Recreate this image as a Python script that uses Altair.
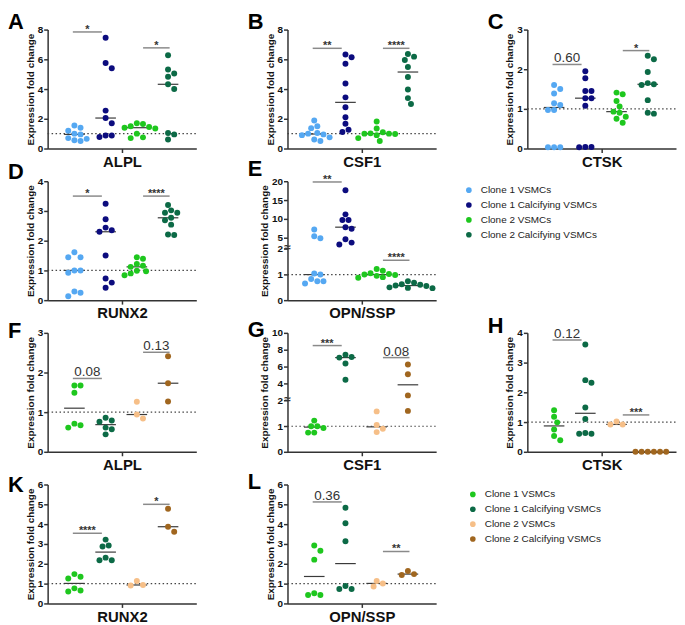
import altair as alt
import numpy as np
import pandas as pd

FONT = "Liberation Sans"
GROUPS = ["Clone 1 VSMCs", "Clone 1 Calcifying VSMCs", "Clone 2 VSMCs", "Clone 2 Calcifying VSMCs"]
COLORS_TOP = ["#55a8f2", "#0c0c7e", "#1ec71e", "#0c6a46"]
COLORS_BOT = ["#1ec71e", "#0c6a46", "#f6bf88", "#a0661f"]

LETTERS = ["A", "B", "C", "D", "E", "F", "G", "H", "K", "L"]
GENES = ["ALPL", "CSF1", "CTSK", "RUNX2", "OPN/SSP", "ALPL", "CSF1", "CTSK", "RUNX2", "OPN/SSP"]

# values per panel: 4 groups each
A_VALS = [[1.55, 1.4, 1.2, 1.0, 0.95, 0.7, 0.65, 0.55, 0.5],
          [7.45, 5.75, 5.4, 2.55, 2.05, 1.7, 0.87, 0.87, 0.78],
          [1.7, 1.65, 1.5, 1.45, 1.4, 1.35, 1.0, 0.75, 0.7],
          [6.28, 5.32, 5.05, 4.83, 4.32, 4.0, 1.05, 0.95, 0.6]]
B_VALS = [[1.88, 1.5, 1.37, 1.05, 1.0, 0.95, 0.9, 0.75, 0.6, 0.5],
          [6.32, 6.14, 5.7, 4.37, 3.44, 2.77, 2.1, 1.66, 1.26, 1.11],
          [1.82, 1.35, 1.1, 1.02, 1.0, 1.0, 0.98, 0.9, 0.7, 0.5],
          [6.36, 6.18, 5.96, 5.48, 4.81, 3.97, 3.39, 2.99]]
C_VALS = [[1.6, 1.5, 1.39, 1.14, 1.1, 0.97, 0.97, 0.03, 0.03, 0.03],
          [1.95, 1.77, 1.45, 1.45, 1.27, 1.27, 1.08, 0.04, 0.04, 0.03],
          [1.41, 1.37, 1.2, 1.06, 0.93, 0.9, 0.8, 0.75, 0.65],
          [2.34, 2.25, 1.93, 1.65, 1.62, 1.6, 1.22, 0.9, 0.88]]
D_VALS = [[1.61, 1.44, 1.44, 1.0, 1.0, 0.92, 0.29, 0.25, 0.13],
          [3.24, 2.72, 2.44, 2.35, 2.3, 1.5, 0.73, 0.59, 0.42],
          [1.44, 1.39, 1.22, 1.16, 1.12, 0.99, 0.97, 0.9, 0.84],
          [3.2, 3.02, 2.94, 2.94, 2.77, 2.69, 2.54, 2.21, 2.19]]
E_VALS = [[7.2, 5.4, 4.85, 1.04, 1.0, 0.83, 0.74, 0.74, 0.65],
          [17.6, 11.2, 9.7, 9.7, 7.8, 7.4, 4.6, 3.7, 3.2],
          [1.22, 1.15, 1.05, 1.02, 1.0, 0.98, 0.95, 0.9, 0.88],
          [0.74, 0.68, 0.62, 0.6, 0.57, 0.55, 0.5, 0.48, 0.47]]
F_VALS = [[1.67, 1.67, 1.49, 0.71, 0.67, 0.61],
          [0.86, 0.79, 0.76, 0.61, 0.57, 0.44],
          [1.26, 0.94, 0.84],
          [2.41, 1.73, 1.27]]
G_VALS = [[1.22, 1.0, 1.0, 0.93, 0.75, 0.75],
          [7.42, 7.15, 7.08, 6.38, 4.46],
          [1.58, 1.05, 0.9, 0.77],
          [6.27, 5.12, 2.62, 1.6]]
H_VALS = [[1.4, 1.18, 0.99, 0.75, 0.53, 0.39],
          [3.61, 2.41, 2.32, 1.49, 1.1, 0.63, 0.61, 0.61],
          [1.02, 0.92, 0.92],
          [0.0, 0.0, 0.0, 0.0, 0.0, 0.0]]
K_VALS = [[1.48, 1.35, 1.26, 0.76, 0.65, 0.6],
          [3.22, 2.92, 2.87, 2.31, 2.18, 2.18],
          [1.13, 0.93, 0.9],
          [4.78, 3.87, 3.62]]
L_VALS = [[2.92, 2.66, 2.21, 0.51, 0.43, 0.43],
          [4.83, 4.05, 3.14, 0.88, 0.73, 0.73],
          [1.13, 1.01, 0.85],
          [1.64, 1.48, 1.43]]
PANEL_VALS = [A_VALS, B_VALS, C_VALS, D_VALS, E_VALS, F_VALS, G_VALS, H_VALS, K_VALS, L_VALS]

Y_MAX = [8, 8, 3, 4, 20, 3, 10, 4, 6, 6]
Y_TICKS = [[0, 2, 4, 6, 8], [0, 2, 4, 6, 8], [0, 1, 2, 3], [0, 1, 2, 3, 4],
           [0, 1, 2, 5, 10, 15, 20], [0, 1, 2, 3], [0, 1, 2, 4, 6, 8, 10],
           [0, 1, 2, 3, 4], [0, 1, 2, 3, 4, 5, 6], [0, 1, 2, 3, 4, 5, 6]]
Y_BREAK = [None, None, None, None, 2, None, 2, None, None, None]

SIG_Y = [[7.84, 6.77], [6.74, 6.74], [2.12, 2.47], [3.5, 3.5], [19.8, 1.56],
         [1.85, 2.51], [8.5, 7.08], [3.76, 1.24], [3.54, 5.0], [5.12, 2.62]]
SIG_TEXT = [["*", "*"], ["**", "****"], ["0.60", "*"], ["*", "****"], ["**", "****"],
            ["0.08", "0.13"], ["***", "0.08"], ["0.12", "***"], ["****", "*"], ["0.36", "**"]]
SIG_SPANS = [(0.95, 1.88), (3.2, 4.05)]

# layout (pixels): letter baseline relative to the plot top
LETTER_Y = [-1, -1, -1, -2, -5, 5, 4, 0, 8, 5]

W, H = 150, 120
X_DOMAIN = [0.143, 4.905]
PX_PER_UNIT = W / (X_DOMAIN[1] - X_DOMAIN[0])
BREAK_FRAC = 0.43
DOT = 6.2


def y_frame(i):
    if Y_BREAK[i] is None:
        dom = [0, Y_MAX[i]]
        frac = [0, 1]
    else:
        dom = [0, Y_BREAK[i], Y_MAX[i]]
        frac = [0, BREAK_FRAC, 1]
    return dom, frac


def swarm(vals, dom, frac):
    placed, offs = [], []
    cands = [0.0]
    for k in range(1, 40):
        cands += [k * DOT / 2, -k * DOT / 2]
    for v in vals:
        y = float(np.interp(v, dom, frac)) * H
        for c in cands:
            if all((c - px) ** 2 + (y - py) ** 2 >= DOT ** 2 - 1e-6 for px, py in placed):
                break
        placed.append((c, y))
        offs.append(c)
    return offs


def panel(i):
    colors = COLORS_TOP if i < 5 else COLORS_BOT
    dom, frac = y_frame(i)
    rows = []
    for g, vals in enumerate(PANEL_VALS[i]):
        offs = swarm(vals, dom, frac)
        for v, o in zip(vals, offs):
            rows.append({"group": GROUPS[g], "gi": g + 1, "v": v, "x": g + 1 + o / PX_PER_UNIT})
    df = pd.DataFrame(rows)

    yscale = alt.Scale(domain=dom, range=[H - f * H for f in frac], nice=False, zero=False)
    xscale = alt.Scale(domain=X_DOMAIN, nice=False, zero=False)
    axcol = "#333333"
    yaxis = alt.Axis(values=Y_TICKS[i], format="d", title="Expression fold change",
                     titleFont=FONT, titleFontSize=10, titleFontWeight="bold", titleColor="#111",
                     labelFont=FONT, labelFontSize=10, labelFontWeight="bold", labelColor="#111",
                     labelPadding=1, tickSize=4, titlePadding=2, grid=False,
                     domainWidth=1.5, tickWidth=1.5, domainColor=axcol, tickColor=axcol)
    xaxis = alt.Axis(values=[sum(X_DOMAIN) / 2], labels=False, tickSize=4, title=GENES[i],
                     titleFont=FONT, titleFontSize=15, titleFontWeight="bold", titleColor="#111",
                     titlePadding=1, grid=False, domainWidth=1.5, tickWidth=1.5,
                     domainColor=axcol, tickColor=axcol)

    def X(field):
        return alt.X(field, scale=xscale, axis=xaxis)

    def Y(field):
        return alt.Y(field, scale=yscale, axis=yaxis)

    if i == 4 or i == 9:
        legend = alt.Legend(orient="none", legendX=178 if i == 4 else 182,
                            legendY=4 if i == 4 else 5, title=None,
                            labelFont=FONT, labelFontSize=10, labelColor="#222",
                            symbolSize=32, symbolType="circle", symbolStrokeWidth=0,
                            rowPadding=5, labelOffset=7, padding=0)
    else:
        legend = None

    ref = alt.Chart(pd.DataFrame({"y": [1.0], "xa": [X_DOMAIN[0]], "xb": [X_DOMAIN[1]]})).mark_rule(
        color="#444", strokeDash=[1.5, 2.5], strokeWidth=1.2).encode(
        x=X("xa:Q"), x2="xb:Q", y=Y("y:Q"))

    med = alt.Chart(df).transform_aggregate(
        med="median(v)", groupby=["gi"]
    ).transform_calculate(
        x1="datum.gi - 0.33", x2="datum.gi + 0.33"
    ).mark_rule(color="#3a3a3a", strokeWidth=1.2).encode(
        x=X("x1:Q"), x2="x2:Q", y=Y("med:Q"))

    pts = alt.Chart(df).mark_circle(size=36, opacity=1).encode(
        x=X("x:Q"), y=Y("v:Q"),
        color=alt.Color("group:N", scale=alt.Scale(domain=GROUPS, range=colors), legend=legend))

    sig = pd.DataFrame({
        "x1": [s[0] for s in SIG_SPANS], "x2": [s[1] for s in SIG_SPANS],
        "xm": [(s[0] + s[1]) / 2 for s in SIG_SPANS],
        "y": SIG_Y[i], "t": SIG_TEXT[i],
        "star": [t.startswith("*") for t in SIG_TEXT[i]]})
    bars = alt.Chart(sig).mark_rule(color="#8a8a8a", strokeWidth=1.5).encode(
        x=X("x1:Q"), x2="x2:Q", y=Y("y:Q"))
    stars = alt.Chart(sig).transform_filter("datum.star").mark_text(
        font=FONT, fontSize=11, fontWeight="bold", color="#333", baseline="alphabetic", dy=1).encode(
        x=X("xm:Q"), y=Y("y:Q"), text="t:N")
    nums = alt.Chart(sig).transform_filter("!datum.star").mark_text(
        font=FONT, fontSize=13.5, color="#333", baseline="alphabetic", dy=-2).encode(
        x=X("xm:Q"), y=Y("y:Q"), text="t:N")

    letter = alt.Chart(pd.DataFrame({"t": [LETTERS[i]]})).mark_text(
        font=FONT, fontSize=22, fontWeight="bold", color="#000", align="left",
        baseline="alphabetic").encode(text="t:N", x=alt.value(-40), y=alt.value(LETTER_Y[i]))

    layers = [ref, med, pts, bars, stars, nums, letter]
    if Y_BREAK[i] is not None:
        brk = alt.Chart(pd.DataFrame({"b": [Y_BREAK[i]], "t": ["≈"]})).mark_text(
            font=FONT, fontSize=12, fontWeight="bold", color="#333", baseline="middle", dy=-2).encode(
            x=alt.value(0), y=Y("b:Q"), text="t:N")
        layers.append(brk)
    return alt.layer(*layers).properties(width=W, height=H)


def blank():
    return alt.Chart(pd.DataFrame({"a": [0]})).mark_point(opacity=0).encode(
        x=alt.value(0), y=alt.value(0)).properties(width=W, height=H)


cells = [panel(0), panel(1), panel(2), panel(3), panel(4), blank(),
         panel(5), panel(6), panel(7), panel(8), panel(9)]

chart = alt.concat(*cells, columns=3, spacing={"row": 33, "column": 92}, bounds="flush").resolve_scale(
    color="independent", x="independent", y="independent"
).configure_view(stroke=None).properties(padding=0)

chart.save("out.html", embed_options={"renderer": "svg", "actions": False})
